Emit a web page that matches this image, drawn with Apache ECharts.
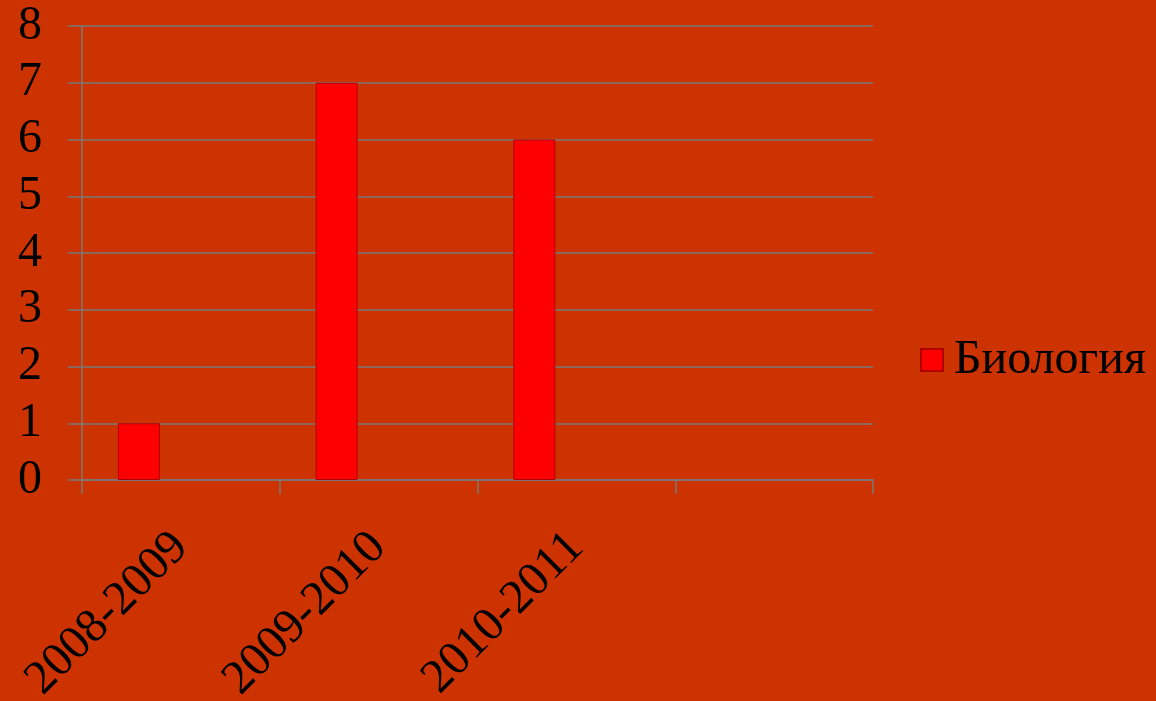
<!DOCTYPE html>
<html>
<head>
<meta charset="utf-8">
<script src="https://cdn.jsdelivr.net/npm/echarts@6/dist/echarts.min.js"></script>
<style>
html,body{margin:0;padding:0;background:#CC3300;}
#chart{width:1156px;height:701px;}
</style>
</head>
<body>
<div id="chart"></div>
<script>
const categories = ['2008-2009', '2009-2010', '2010-2011', ''];
const biologyValues = [1, 7, 6, null];
const seriesName = 'Биология';
const yTicks = [0, 1, 2, 3, 4, 5, 6, 7, 8];

const chart = echarts.init(document.getElementById('chart'));
const font = '"Liberation Serif", "Times New Roman", serif';
const gridColor = '#7a7a7a';
chart.setOption({
  backgroundColor: '#CC3300',
  animation: false,
  grid: { left: 82, right: 283, top: 26, bottom: 221, containLabel: false, outerBoundsMode: 'none' },
  legend: {
    data: [seriesName],
    left: 920,
    top: 336,
    padding: 0,
    orient: 'vertical',
    itemWidth: 22,
    itemHeight: 22,
    textStyle: { fontFamily: font, fontSize: 48, lineHeight: 48, color: '#000', padding: [0, 0, 0, 6] },
    icon: 'rect'
  },
  xAxis: {
    type: 'category',
    data: categories,
    axisLine: { show: true, lineStyle: { color: gridColor, width: 1.5 } },
    axisTick: { show: true, length: 14, lineStyle: { color: gridColor, width: 1.5 } },
    axisLabel: { rotate: 45, fontFamily: font, fontSize: 48, color: '#000', margin: 60, interval: 0 },
    splitLine: { show: false }
  },
  yAxis: {
    type: 'value',
    min: yTicks[0],
    max: yTicks[yTicks.length - 1],
    interval: 1,
    axisLine: { show: true, lineStyle: { color: gridColor, width: 1.5 } },
    axisTick: { show: true, length: 14, lineStyle: { color: gridColor, width: 1.5 } },
    axisLabel: { fontFamily: font, fontSize: 48, color: '#000', margin: 40 },
    splitLine: { show: true, lineStyle: { color: gridColor, width: 1.5 } }
  },
  series: [
    {
      name: seriesName,
      type: 'bar',
      data: biologyValues,
      barWidth: 42,
      barGap: '0%',
      itemStyle: { color: '#FF0000', borderColor: '#B00000', borderWidth: 1 }
    },
    { name: 'b', type: 'bar', data: [null, null, null, null], barWidth: 42, barGap: '0%', itemStyle: { color: 'transparent' } },
    { name: 'c', type: 'bar', data: [null, null, null, null], barWidth: 42, barGap: '0%', itemStyle: { color: 'transparent' } }
  ]
});
</script>
</body>
</html>
